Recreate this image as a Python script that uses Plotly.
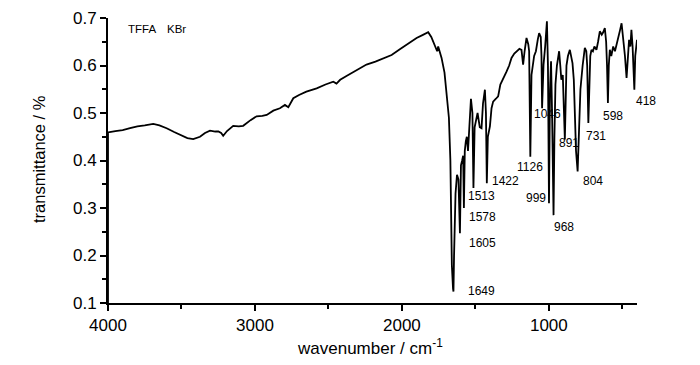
import plotly.graph_objects as go

# ---- data ----
wavenumber = [
    4000, 4000, 3950, 3900, 3850, 3800, 3750, 3692, 3650, 3601, 3550, 3510, 3460, 3420,
    3374, 3340, 3306, 3270, 3249, 3230, 3216, 3190, 3148, 3110, 3080, 3030, 2989,
    2950, 2920, 2875, 2830, 2796, 2773, 2739, 2700, 2650, 2580, 2520, 2467, 2445,
    2420, 2377, 2300, 2241, 2180, 2127, 2070, 2014, 1960, 1900, 1860, 1821, 1800,
    1787, 1770, 1760, 1753, 1740, 1730, 1710, 1696, 1688, 1680, 1670, 1660, 1652,
    1649, 1645, 1635, 1625, 1615, 1605, 1598, 1590, 1583, 1578, 1572, 1565, 1558,
    1550, 1540, 1530, 1520, 1513, 1505, 1495, 1485, 1470, 1458, 1448, 1435, 1428,
    1422, 1415, 1401, 1390, 1379, 1360, 1345, 1330, 1311, 1288, 1270, 1254, 1235,
    1220, 1200, 1186, 1175, 1165, 1152, 1140, 1134, 1126, 1118, 1100, 1088, 1075,
    1066, 1055, 1050, 1046, 1036, 1025, 1013, 1006, 999, 992, 985, 978, 972, 968,
    962, 955, 945, 930, 922, 915, 905, 891, 880, 870, 857, 848, 839, 830, 823, 815,
    804, 795, 785, 770, 755, 745, 739, 731, 725, 718, 710, 700, 690, 676, 665, 653,
    640, 630, 619, 610, 604, 598, 592, 585, 575, 562, 550, 540, 525, 515, 505, 494,
    482, 471, 462, 454, 445, 438, 430, 424, 418, 412, 406, 400,
]
transmittance = [
    0.10, 0.459, 0.462, 0.464, 0.468, 0.472, 0.474, 0.477, 0.474, 0.468, 0.460, 0.454,
    0.447, 0.445, 0.450, 0.458, 0.463, 0.461, 0.461, 0.458, 0.452, 0.462, 0.473, 0.472,
    0.473, 0.485, 0.493, 0.494, 0.496, 0.505, 0.510, 0.517, 0.512, 0.531, 0.538, 0.545,
    0.552, 0.560, 0.566, 0.562, 0.570, 0.578, 0.592, 0.602, 0.608, 0.614, 0.622, 0.634,
    0.646, 0.658, 0.664, 0.670, 0.660, 0.651, 0.640, 0.630, 0.640, 0.625, 0.616, 0.585,
    0.545, 0.510, 0.490, 0.400, 0.180, 0.130, 0.124, 0.200, 0.330, 0.370, 0.360, 0.247,
    0.390, 0.400, 0.410, 0.300, 0.420, 0.440, 0.450, 0.420, 0.480, 0.530, 0.500, 0.342,
    0.470, 0.490, 0.500, 0.470, 0.468, 0.520, 0.549, 0.500, 0.352, 0.450, 0.472, 0.510,
    0.524, 0.530, 0.535, 0.560, 0.574, 0.587, 0.600, 0.616, 0.625, 0.630, 0.635, 0.633,
    0.602, 0.630, 0.658, 0.645, 0.630, 0.408, 0.580, 0.620, 0.630, 0.655, 0.668, 0.660,
    0.620, 0.510, 0.602, 0.640, 0.693, 0.600, 0.310, 0.550, 0.609, 0.500, 0.400, 0.285,
    0.450, 0.560, 0.600, 0.630, 0.600, 0.570, 0.580, 0.444, 0.600, 0.620, 0.633, 0.620,
    0.605, 0.570, 0.500, 0.420, 0.377, 0.450, 0.550, 0.600, 0.637, 0.630, 0.600, 0.479,
    0.580, 0.620, 0.633, 0.630, 0.640, 0.633, 0.650, 0.672, 0.665, 0.670, 0.679, 0.650,
    0.600, 0.521, 0.600, 0.633, 0.620, 0.640, 0.630, 0.645, 0.660, 0.675, 0.689, 0.660,
    0.620, 0.574, 0.620, 0.654, 0.640, 0.675, 0.640, 0.600, 0.549, 0.620, 0.640, 0.654,
]

peak_wn = [1649, 1605, 1578, 1513, 1422, 1126, 1046, 999, 968, 891, 804, 731, 598, 418]
peak_T = [0.124, 0.247, 0.300, 0.342, 0.352, 0.408, 0.510, 0.310, 0.285, 0.444, 0.377, 0.479, 0.521, 0.549]
peak_labels = [str(w) for w in peak_wn]

x_ticks = [4000, 3000, 2000, 1000]
y_ticks = [0.1, 0.2, 0.3, 0.4, 0.5, 0.6, 0.7]

# ---- styling: label offsets in pixels (xanchor, xshift, yshift) ----
label_style = [
    ("left", 13, 1), ("left", 7, -10), ("left", 3, -9), ("left", -7, -8),
    ("left", 3, 2), ("center", 0, -10), ("left", -10, -6), ("right", -1, 5),
    ("left", -2, -12), ("left", -8, -3), ("left", 3, -10), ("left", -4, -13),
    ("left", -7, -13), ("left", 0, -11),
]

FONT = "Liberation Sans, Arial, Helvetica, sans-serif"

PL, PR, PT, PB = 108, 637, 18, 303
W, H = 700, 365


def px(xp):
    return (xp - PL) / (PR - PL)


def py(yp):
    return (PB - yp) / (PB - PT)


fig = go.Figure()
fig.add_trace(go.Scatter(
    x=wavenumber, y=transmittance, mode="lines",
    line=dict(color="black", width=1.8), hoverinfo="skip", showlegend=False,
))

annotations = []
for w, t, lab, (anc, dx, dy) in zip(peak_wn, peak_T, peak_labels, label_style):
    annotations.append(dict(
        x=w, y=t, xref="x", yref="y", text=lab, showarrow=False,
        xanchor=anc, yanchor="middle", xshift=dx, yshift=dy,
        font=dict(family=FONT, size=12, color="black"),
    ))

annotations.append(dict(x=px(126), y=py(28.5), xref="paper", yref="paper", text="TFFA",
                        showarrow=False, xanchor="left", yanchor="middle",
                        font=dict(family=FONT, size=11.5, color="black")))
annotations.append(dict(x=px(165), y=py(28.5), xref="paper", yref="paper", text="KBr",
                        showarrow=False, xanchor="left", yanchor="middle",
                        font=dict(family=FONT, size=11.5, color="black")))
annotations.append(dict(x=px(39), y=py(159), xref="paper", yref="paper",
                        text="transmittance / %", textangle=-90, showarrow=False,
                        xanchor="center", yanchor="middle",
                        font=dict(family=FONT, size=16.5, color="black")))
annotations.append(dict(x=px(370), y=py(347), xref="paper", yref="paper",
                        text="wavenumber / cm<sup>-1</sup>", showarrow=False,
                        xanchor="center", yanchor="middle",
                        font=dict(family=FONT, size=17, color="black")))

fig.update_layout(
    width=W, height=H,
    margin=dict(l=PL, r=W - PR, t=PT, b=H - PB, autoexpand=False),
    paper_bgcolor="white", plot_bgcolor="white",
    font=dict(family=FONT, color="black"),
    annotations=annotations,
    xaxis=dict(
        range=[4000, 400], autorange=False, tickvals=x_ticks,
        ticktext=[str(v) for v in x_ticks],
        ticks="outside", ticklen=6, tickwidth=1.5, tickcolor="black",
        showline=True, linecolor="black", linewidth=2, mirror=False,
        showgrid=False, zeroline=False,
        tickfont=dict(family=FONT, size=17, color="black"),
        minor=dict(dtick=500, tick0=0, ticks="outside", ticklen=4, tickwidth=1.5,
                   tickcolor="black", showgrid=False),
    ),
    yaxis=dict(
        range=[0.1, 0.7], autorange=False, tickvals=y_ticks,
        ticktext=[f"{v:.1f}" for v in y_ticks],
        ticks="outside", ticklen=6, tickwidth=1.5, tickcolor="black",
        showline=True, linecolor="black", linewidth=2, mirror=False,
        showgrid=False, zeroline=False,
        tickfont=dict(family=FONT, size=17, color="black"),
        minor=dict(dtick=0.05, tick0=0, ticks="outside", ticklen=4, tickwidth=1.5,
                   tickcolor="black", showgrid=False),
    ),
)

fig.write_html("out.html", config={"displayModeBar": False},
               post_script="document.body.style.margin='0';")
